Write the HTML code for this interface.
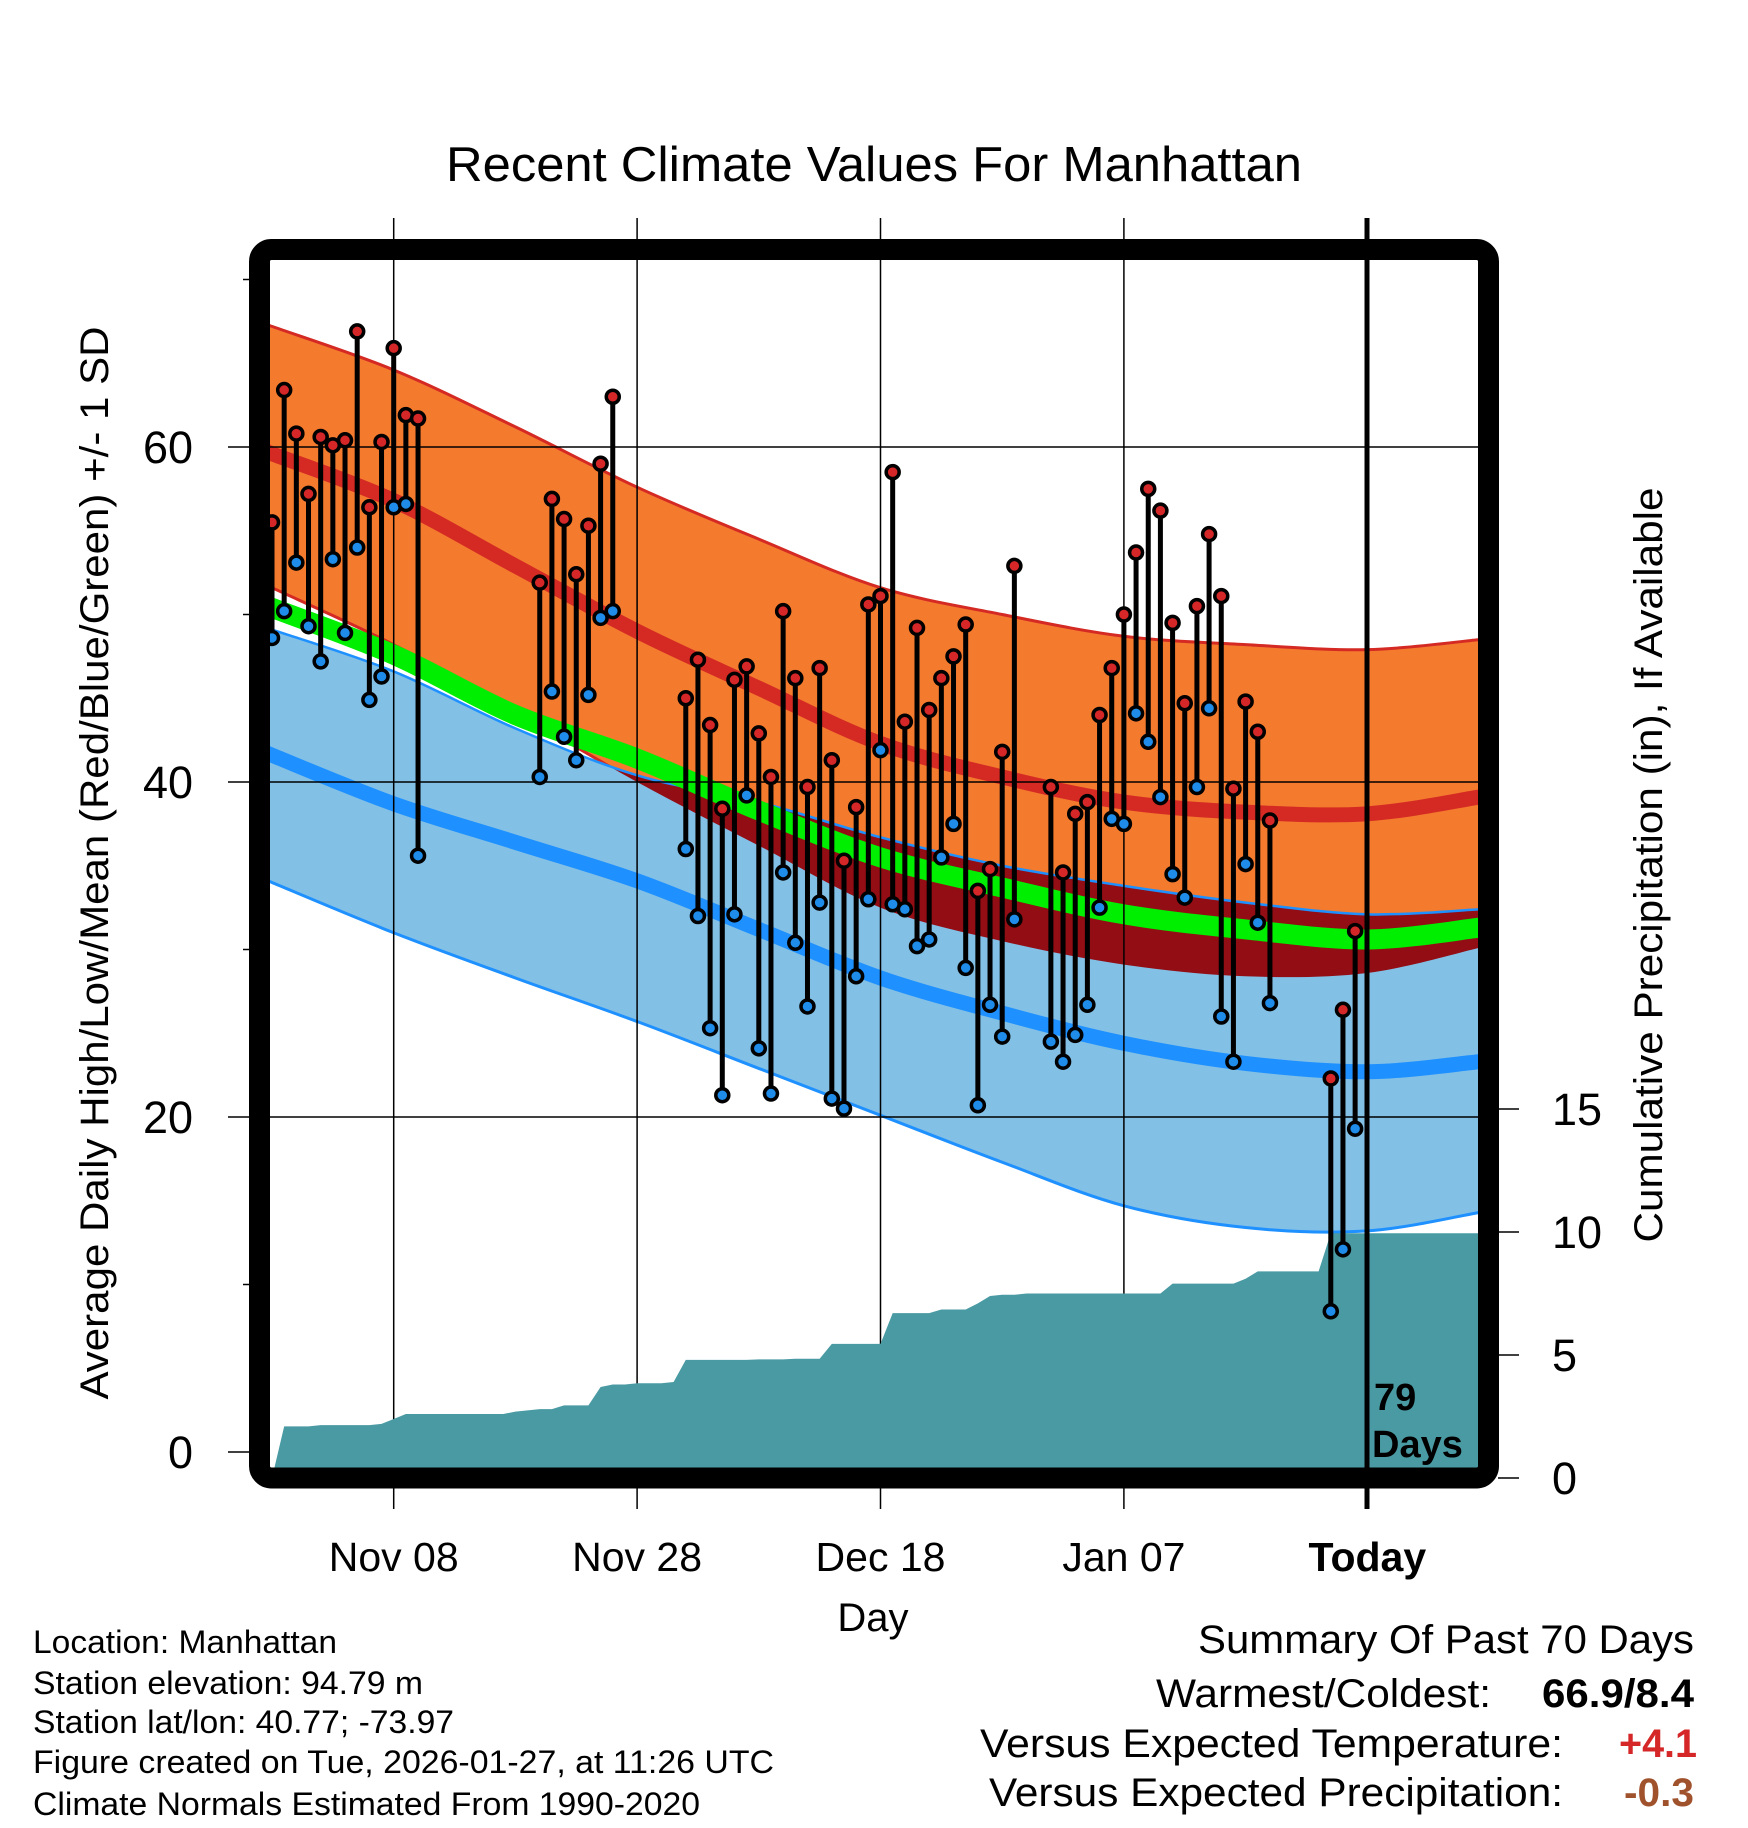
<!DOCTYPE html>
<html><head><meta charset="utf-8"><style>
html,body{margin:0;padding:0;background:#fff;}
svg{display:block;font-family:"Liberation Sans",sans-serif;}
</style></head><body>
<svg id="chart" width="1748" height="1828" viewBox="0 0 1748 1828" xmlns="http://www.w3.org/2000/svg">
<defs>
<clipPath id="plotClip"><rect x="270" y="260" width="1208" height="1208"/></clipPath>
<clipPath id="blueClip"><path id="blueClipPath" d=""/></clipPath>
</defs>
<g id="bands" clip-path="url(#plotClip)"></g>
<g id="grid"></g>
<g id="precip" clip-path="url(#plotClip)"></g>
<g id="obs" clip-path="url(#plotClip)"></g>
<line x1="1367" y1="218" x2="1367" y2="1509" stroke="#000" stroke-width="5"/>
<rect x="259.5" y="249.5" width="1229" height="1228.5" rx="12" fill="none" stroke="#000" stroke-width="21"/>
<text x="1374" y="1410" font-size="38" font-weight="bold">79</text>
<text x="1372" y="1457" font-size="38" font-weight="bold">Days</text>
<g id="axes"></g>
<text x="874" y="181" font-size="49" text-anchor="middle" textLength="856" lengthAdjust="spacingAndGlyphs">Recent Climate Values For Manhattan</text>
<text transform="translate(108,863) rotate(-90)" font-size="40" text-anchor="middle" textLength="1073" lengthAdjust="spacingAndGlyphs">Average Daily High/Low/Mean (Red/Blue/Green) +/- 1 SD</text>
<text transform="translate(1662,865) rotate(-90)" font-size="40" text-anchor="middle" textLength="755" lengthAdjust="spacingAndGlyphs">Cumulative Precipitation (in), If Available</text>
<text x="873" y="1631" font-size="40" text-anchor="middle">Day</text>
<g font-size="32">
<text x="33" y="1653" textLength="304" lengthAdjust="spacingAndGlyphs">Location: Manhattan</text>
<text x="33" y="1694" textLength="390" lengthAdjust="spacingAndGlyphs">Station elevation: 94.79 m</text>
<text x="33" y="1733" textLength="421" lengthAdjust="spacingAndGlyphs">Station lat/lon: 40.77; -73.97</text>
<text x="33" y="1773" textLength="741" lengthAdjust="spacingAndGlyphs">Figure created on Tue, 2026-01-27, at 11:26 UTC</text>
<text x="33" y="1815" textLength="667" lengthAdjust="spacingAndGlyphs">Climate Normals Estimated From 1990-2020</text>
</g>
<g font-size="40" text-anchor="end">
<text x="1694" y="1653" textLength="496" lengthAdjust="spacingAndGlyphs">Summary Of Past 70 Days</text>
<text x="1491" y="1707" textLength="335" lengthAdjust="spacingAndGlyphs">Warmest/Coldest:</text>
<text x="1694" y="1707" font-weight="bold" textLength="152" lengthAdjust="spacingAndGlyphs">66.9/8.4</text>
<text x="1563" y="1757" textLength="583" lengthAdjust="spacingAndGlyphs">Versus Expected Temperature:</text>
<text x="1697" y="1757" font-weight="bold" fill="#d62728" textLength="78" lengthAdjust="spacingAndGlyphs">+4.1</text>
<text x="1563" y="1806" textLength="574" lengthAdjust="spacingAndGlyphs">Versus Expected Precipitation:</text>
<text x="1694" y="1806" font-weight="bold" fill="#a0522d" textLength="70" lengthAdjust="spacingAndGlyphs">-0.3</text>
</g>
</svg>
<script>
// ---- data ----
const normalDays = [0,10,20,30,40,50,60,70,80,90,99.2];
const highUpper = [67.2,64.6,61.2,57.6,54.5,51.6,50.0,48.7,48.2,47.9,48.5];
const normHigh  = [59.6,56.8,52.9,49.0,45.6,42.3,40.3,38.8,38.2,38.1,39.1];
const highLower = [51.6,48.2,44.2,40.0,36.2,32.5,30.5,29.1,28.4,28.6,30.1];
const normMean  = [50.4,47.6,44.0,41.4,38.3,35.5,33.7,32.1,31.2,30.6,31.3];
const lowUpper  = [49.1,46.6,43.2,40.4,38.8,36.7,35.0,33.8,32.8,32.1,32.4];
const normLow   = [41.6,38.7,36.4,34.1,31.2,28.3,26.2,24.4,23.2,22.7,23.3];
const lowLower  = [34.0,31.0,28.3,25.7,22.9,20.1,17.3,14.7,13.4,13.2,14.3];

const obsDays = [0,1,2,3,4,5,6,7,8,9,10,11,12,22,23,24,25,26,27,28,34,35,36,37,38,39,40,41,42,43,44,45,46,47,48,49,50,51,52,53,54,55,56,57,58,59,60,61,64,65,66,67,68,69,70,71,72,73,74,75,76,77,78,79,80,81,82,87,88,89];
const obsHigh = [55.5,63.4,60.8,57.2,60.6,60.1,60.4,66.9,56.4,60.3,65.9,61.9,61.7,51.9,56.9,55.7,52.4,55.3,59.0,63.0,45.0,47.3,43.4,38.4,46.1,46.9,42.9,40.3,50.2,46.2,39.7,46.8,41.3,35.3,38.5,50.6,51.1,58.5,43.6,49.2,44.3,46.2,47.5,49.4,33.5,34.8,41.8,52.9,39.7,34.6,38.1,38.8,44.0,46.8,50.0,53.7,57.5,56.2,49.5,44.7,50.5,54.8,51.1,39.6,44.8,43.0,37.7,22.3,26.4,31.1];
const obsLow = [48.6,50.2,53.1,49.3,47.2,53.3,48.9,54.0,44.9,46.3,56.4,56.6,35.6,40.3,45.4,42.7,41.3,45.2,49.8,50.2,36.0,32.0,25.3,21.3,32.1,39.2,24.1,21.4,34.6,30.4,26.6,32.8,21.1,20.5,28.4,33.0,41.9,32.7,32.4,30.2,30.6,35.5,37.5,28.9,20.7,26.7,24.8,31.8,24.5,23.3,24.9,26.7,32.5,37.8,37.5,44.1,42.4,39.1,34.5,33.1,39.7,44.4,26.0,23.3,35.1,31.6,26.8,8.4,12.1,19.3];

const precipDays = [0,1,2,3,4,5,6,7,8,9,10,11,12,13,14,15,16,17,18,19,20,21,22,23,24,25,26,27,28,29,30,31,32,33,34,35,36,37,38,39,40,41,42,43,44,45,46,47,48,49,50,51,52,53,54,55,56,57,58,59,60,61,62,63,64,65,66,67,68,69,70,71,72,73,74,75,76,77,78,79,80,81,82,83,84,85,86,87,88,89];
const precipCum = [0,2.1,2.1,2.1,2.15,2.15,2.15,2.15,2.15,2.2,2.4,2.6,2.6,2.6,2.6,2.6,2.6,2.6,2.6,2.6,2.7,2.75,2.8,2.8,2.95,2.95,2.95,3.7,3.8,3.8,3.85,3.85,3.85,3.9,4.8,4.8,4.8,4.8,4.8,4.8,4.82,4.82,4.82,4.85,4.85,4.85,5.45,5.45,5.45,5.45,5.45,6.7,6.7,6.7,6.7,6.85,6.85,6.85,7.1,7.4,7.45,7.45,7.5,7.5,7.5,7.5,7.5,7.5,7.5,7.5,7.5,7.5,7.5,7.5,7.9,7.9,7.9,7.9,7.9,7.9,8.1,8.4,8.4,8.4,8.4,8.4,8.4,9.95,9.95,9.95];

const yTicks = [0,20,40,60];
const yMinorTicks = [10,30,50,70];
const pTicks = [0,5,10,15];
const xTickDays = [10,30,50,70,90];
const xTickLabels = ["Nov 08","Nov 28","Dec 18","Jan 07","Today"];

// ---- scales ----
const X = d => 272 + 12.17*d;
const Y = t => 1452 - 16.75*t;
const P = p => 1478 - 24.6*p;
const NS = "http://www.w3.org/2000/svg";
function mk(tag, attrs, parent){const e=document.createElementNS(NS,tag);for(const k in attrs)e.setAttribute(k,attrs[k]);parent.appendChild(e);return e;}

function pts(days, vals){const r=[];for(let i=0;i<days.length;i++)r.push([X(days[i]),Y(vals[i])]);
  r.unshift([X(days[0])-6,Y(vals[0]+(vals[0]-vals[1])*0.06)]);return r;}
function smooth(p){let d="M"+p[0][0]+","+p[0][1];for(let i=0;i<p.length-1;i++){const p0=p[i-1]||p[i],p1=p[i],p2=p[i+1],p3=p[i+2]||p[i+1];
  const c1=[p1[0]+(p2[0]-p0[0])/6,p1[1]+(p2[1]-p0[1])/6],c2=[p2[0]-(p3[0]-p1[0])/6,p2[1]-(p3[1]-p1[1])/6];
  d+=" C"+c1[0]+","+c1[1]+" "+c2[0]+","+c2[1]+" "+p2[0]+","+p2[1];}return d;}
function smoothRev(p){return smooth(p.slice().reverse()).replace(/^M/," L");}
function band(a,b){const pa=pts(normalDays,a),pb=pts(normalDays,b);return smooth(pa)+smoothRev(pb)+" Z";}

const bands=document.getElementById('bands');
const orange=mk('path',{d:band(highUpper,highLower),fill:'#f47a2e'},bands);


const hu=mk('path',{d:smooth(pts(normalDays,highUpper)),fill:'none',stroke:'#d42a23','stroke-width':3},bands);


const hl=mk('path',{d:smooth(pts(normalDays,highLower)),fill:'none',stroke:'#d42a23','stroke-width':3},bands);


const blueBand=band(lowUpper,lowLower);
document.getElementById('blueClipPath').setAttribute('d',blueBand);
const lb=mk('path',{d:blueBand,fill:'#82c0e6'},bands);


const ov=mk('path',{d:band(highUpper,highLower),fill:'#920d14','clip-path':'url(#blueClip)'},bands);


const lu=mk('path',{d:smooth(pts(normalDays,lowUpper)),fill:'none',stroke:'#1e90ff','stroke-width':2.5},bands);


const ll=mk('path',{d:smooth(pts(normalDays,lowLower)),fill:'none',stroke:'#1e90ff','stroke-width':3},bands);


const nh=mk('path',{d:smooth(pts(normalDays,normHigh)),fill:'none',stroke:'#d42a23','stroke-width':15},bands);


const nl=mk('path',{d:smooth(pts(normalDays,normLow)),fill:'none',stroke:'#1e90ff','stroke-width':15},bands);


const nm=mk('path',{d:smooth(pts(normalDays,normMean)),fill:'none',stroke:'#00ee00','stroke-width':20},bands);



// grid
const grid=document.getElementById('grid');
yTicks.forEach(t=>{ if(t===0) return;
  const l=mk('line',{x1:270,x2:1478,y1:Y(t),y2:Y(t),stroke:'#000','stroke-width':1.5},grid);
  
  
});
xTickDays.forEach((d,i)=>{ if(i===xTickDays.length-1) return;
  const l=mk('line',{x1:X(d),x2:X(d),y1:218,y2:1509,stroke:'#000','stroke-width':1.5},grid);
  
  
});

// precip
const pg=document.getElementById('precip');
let pd="M"+X(precipDays[0])+","+P(0);
for(let i=0;i<precipDays.length;i++) pd+=" L"+X(precipDays[i])+","+P(precipCum[i]);
pd+=" L1480,"+P(precipCum[precipCum.length-1])+" L1480,1480 L"+X(precipDays[0])+",1480 Z";
const pa=mk('path',{d:pd,fill:'#4a9aa3'},pg);



// observations
const og=document.getElementById('obs');
for(let i=0;i<obsDays.length;i++){
  const x=X(obsDays[i]);
  const s=mk('line',{x1:x,x2:x,y1:Y(obsHigh[i]),y2:Y(obsLow[i]),stroke:'#000','stroke-width':5},og);
  
  
}
for(let i=0;i<obsDays.length;i++){
  const x=X(obsDays[i]);
  const h=mk('circle',{cx:x,cy:Y(obsHigh[i]),r:6.5,fill:'#d62728',stroke:'#000','stroke-width':3.5},og);
  
  
  const lo=mk('circle',{cx:x,cy:Y(obsLow[i]),r:6.5,fill:'#1e8ce8',stroke:'#000','stroke-width':3.5},og);
  
  
}

// axes
const ax=document.getElementById('axes');
yTicks.forEach(t=>{
  const l=mk('line',{x1:228,x2:250,y1:Y(t),y2:Y(t),stroke:'#000','stroke-width':1.5},ax);
  
  
  const tx=mk('text',{x:193,y:Y(t)+16,'font-size':45,'text-anchor':'end'},ax);
  tx.textContent=t;
  
  
});
yMinorTicks.forEach(t=>{
  const l=mk('line',{x1:243,x2:250,y1:Y(t),y2:Y(t),stroke:'#000','stroke-width':1.5},ax);
  
  
});
pTicks.forEach(p=>{
  const l=mk('line',{x1:1498,x2:1519,y1:P(p),y2:P(p),stroke:'#000','stroke-width':1.5},ax);
  
  
  const tx=mk('text',{x:1552,y:P(p)+16,'font-size':45},ax);
  tx.textContent=p;
  
  
});
xTickDays.forEach((d,i)=>{
  const tx=mk('text',{x:X(d),y:1571,'font-size':41,'text-anchor':'middle'},ax);
  if(i===xTickDays.length-1) tx.setAttribute('font-weight','bold');
  tx.textContent=xTickLabels[i];
  
  
});
</script>
</body></html>
